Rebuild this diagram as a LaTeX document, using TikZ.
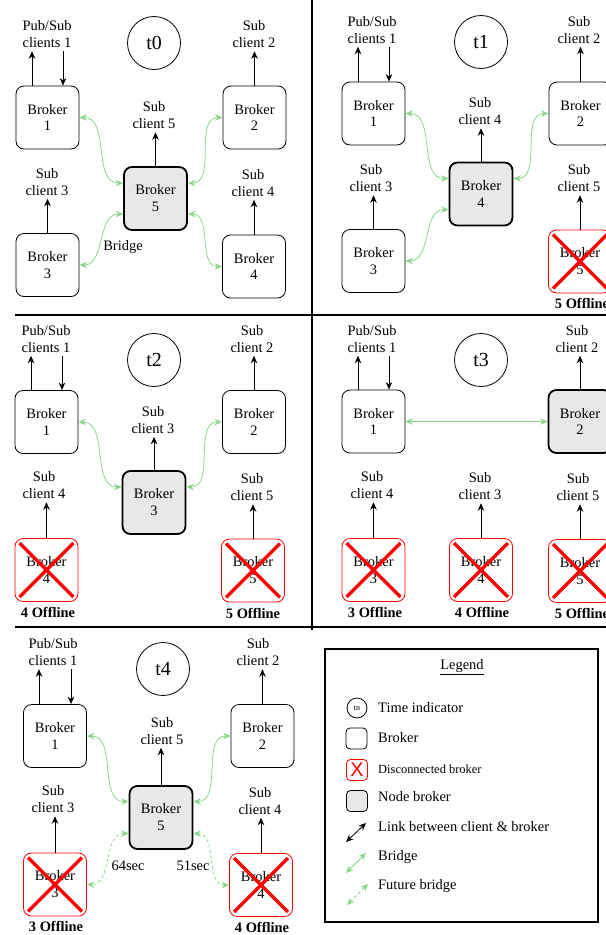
\documentclass[tikz,border=0pt]{standalone}
\usepackage{fontspec}
\setmainfont{Liberation Serif}
\setsansfont{Liberation Sans}
\usetikzlibrary{arrows.meta}
\definecolor{bridgegreen}{RGB}{140,214,140}
\definecolor{nodegray}{RGB}{232,232,232}
\newcommand{\offline}[1]{\draw [xmark] ([shift={(5bp,-5bp)}]#1.north west) -- ([shift={(-5bp,5bp)}]#1.south east)
  ([shift={(5bp,5bp)}]#1.south west) -- ([shift={(-5bp,-5bp)}]#1.north east);}

\begin{document}
\begin{tikzpicture}[x=10bp,y=10bp,>={Stealth[length=7.5bp,width=6.5bp]}]
            \tikzstyle{every node}+=[inner sep=0pt, font=\fontsize{14.5}{17}\selectfont]
            \tikzstyle{broker}=[draw, rounded corners=8bp, minimum size=63bp, align=center, line width=0.8bp]
            \tikzstyle{nodebroker}=[broker, fill=nodegray, line width=1.8bp]
            \tikzstyle{offbroker}=[broker, draw=red]
            \tikzstyle{client}=[align=center, inner sep=3bp]
            \tikzstyle{timer}=[draw, circle, minimum size=53bp, line width=0.8bp, font=\fontsize{20}{24}\selectfont]
            \tikzstyle{offtext}=[font=\fontsize{14.5}{17}\selectfont\bfseries]
            \tikzstyle{link}=[->, line width=0.8bp]
            \tikzstyle{bridge}=[<->, bridgegreen, line width=0.8bp]
            \tikzstyle{futurebridge}=[bridge, dash pattern=on 3bp off 2.5bp]
            \tikzstyle{xmark}=[red, line width=3.5bp]
            \tikzstyle{grid}=[line width=2bp]
            \useasboundingbox (0,0) rectangle (60.6,-93.5);
            \draw [grid] (1.5,-31.5) -- (60.6,-31.5);
            \draw [grid] (1.5,-62.7) -- (60.6,-62.7);
            \draw [grid] (31.15,0) -- (31.15,-63);
            % t0
            \node [timer] (t0) at (15.4,-4.3) {t0};
            \node [client] (t0c1) at (4.7,-3.45) {Pub/Sub\\clients 1};
            \node [broker] (t0b1) at (4.75,-11.75) {Broker\\1};
            \node [client] (t0c2) at (25.4,-3.45) {Sub\\client 2};
            \node [broker] (t0b2) at (25.45,-11.75) {Broker\\2};
            \node [client] (t0c5) at (15.4,-11.55) {Sub\\client 5};
            \node [nodebroker] (t0b5) at (15.55,-19.85) {Broker\\5};
            \node [client] (t0c3) at (4.7,-18.2) {Sub\\client 3};
            \node [broker] (t0b3) at (4.75,-26.5) {Broker\\3};
            \node [client] (t0c4) at (25.3,-18.3) {Sub\\client 4};
            \node [broker] (t0b4) at (25.4,-26.65) {Broker\\4};
            \node (t0lb) at (12.3,-24.7) {Bridge};
            \draw [link] ([xshift=-15.5bp]t0b1.north) -- ([xshift=-15.5bp]t0b1.north |- t0c1.south);
            \draw [link] ([xshift=15.5bp]t0b1.north |- t0c1.south) -- ([xshift=15.5bp]t0b1.north);
            \draw [link] (t0b2.north) -- (t0b2.north |- t0c2.south);
            \draw [link] (t0b5.north) -- (t0b5.north |- t0c5.south);
            \draw [link] (t0b3.north) -- (t0b3.north |- t0c3.south);
            \draw [link] (t0b4.north) -- (t0b4.north |- t0c4.south);
            \draw [bridge] (t0b1.east) to [out=0,in=180] ([yshift=15.5bp]t0b5.west);
            \draw [bridge] (t0b2.west) to [out=180,in=0] ([yshift=15.5bp]t0b5.east);
            \draw [bridge] ([yshift=-15.5bp]t0b5.west) to [out=180,in=0] (t0b3.east);
            \draw [bridge] ([yshift=-15.5bp]t0b5.east) to [out=0,in=180] (t0b4.west);
            % t1
            \node [timer] (t1) at (48.1,-4.2) {t1};
            \node [client] (t1c1) at (37.2,-3.0) {Pub/Sub\\clients 1};
            \node [broker] (t1b1) at (37.35,-11.35) {Broker\\1};
            \node [client] (t1c2) at (57.9,-3.0) {Sub\\client 2};
            \node [broker] (t1b2) at (58.05,-11.35) {Broker\\2};
            \node [client] (t1c4) at (48.0,-11.15) {Sub\\client 4};
            \node [nodebroker] (t1b4) at (48.1,-19.4) {Broker\\4};
            \node [client] (t1c3) at (37.1,-17.85) {Sub\\client 3};
            \node [broker] (t1b3) at (37.35,-26.1) {Broker\\3};
            \node [client] (t1c5) at (57.9,-17.85) {Sub\\client 5};
            \node [offbroker] (t1b5) at (58.0,-26.15) {Broker\\5};
            \node [offtext] (t1o5) at (58.2,-30.3) {5 Offline};
            \offline{t1b5}
            \draw [link] ([xshift=-15.5bp]t1b1.north) -- ([xshift=-15.5bp]t1b1.north |- t1c1.south);
            \draw [link] ([xshift=15.5bp]t1b1.north |- t1c1.south) -- ([xshift=15.5bp]t1b1.north);
            \draw [link] (t1b2.north) -- (t1b2.north |- t1c2.south);
            \draw [link] (t1b4.north) -- (t1b4.north |- t1c4.south);
            \draw [link] (t1b3.north) -- (t1b3.north |- t1c3.south);
            \draw [link] (t1b5.north) -- (t1b5.north |- t1c5.south);
            \draw [bridge] (t1b1.east) to [out=0,in=180] ([yshift=15.5bp]t1b4.west);
            \draw [bridge] (t1b2.west) to [out=180,in=0] ([yshift=15.5bp]t1b4.east);
            \draw [bridge] ([yshift=-15.5bp]t1b4.west) to [out=180,in=0] (t1b3.east);
            % t2
            \node [timer] (t2) at (15.4,-36.0) {t2};
            \node [client] (t2c1) at (4.6,-33.9) {Pub/Sub\\clients 1};
            \node [broker] (t2b1) at (4.65,-42.2) {Broker\\1};
            \node [client] (t2c2) at (25.2,-33.9) {Sub\\client 2};
            \node [broker] (t2b2) at (25.4,-42.2) {Broker\\2};
            \node [client] (t2c3) at (15.3,-42.0) {Sub\\client 3};
            \node [nodebroker] (t2b3) at (15.4,-50.25) {Broker\\3};
            \node [client] (t2c4) at (4.4,-48.55) {Sub\\client 4};
            \node [offbroker] (t2b4) at (4.65,-57.0) {Broker\\4};
            \node [offtext] (t2o4) at (4.8,-61.2) {4 Offline};
            \node [client] (t2c5) at (25.2,-48.75) {Sub\\client 5};
            \node [offbroker] (t2b5) at (25.3,-57.05) {Broker\\5};
            \node [offtext] (t2o5) at (25.3,-61.3) {5 Offline};
            \offline{t2b4}
            \offline{t2b5}
            \draw [link] ([xshift=-15.5bp]t2b1.north) -- ([xshift=-15.5bp]t2b1.north |- t2c1.south);
            \draw [link] ([xshift=15.5bp]t2b1.north |- t2c1.south) -- ([xshift=15.5bp]t2b1.north);
            \draw [link] (t2b2.north) -- (t2b2.north |- t2c2.south);
            \draw [link] (t2b3.north) -- (t2b3.north |- t2c3.south);
            \draw [link] (t2b4.north) -- (t2b4.north |- t2c4.south);
            \draw [link] (t2b5.north) -- (t2b5.north |- t2c5.south);
            \draw [bridge] (t2b1.east) to [out=0,in=180] ([yshift=15.5bp]t2b3.west);
            \draw [bridge] (t2b2.west) to [out=180,in=0] ([yshift=15.5bp]t2b3.east);
            % t3
            \node [timer] (t3) at (48.1,-36.0) {t3};
            \node [client] (t3c1) at (37.2,-33.9) {Pub/Sub\\clients 1};
            \node [broker] (t3b1) at (37.35,-42.15) {Broker\\1};
            \node [client] (t3c2) at (57.7,-33.9) {Sub\\client 2};
            \node [nodebroker] (t3b2) at (58.0,-42.15) {Broker\\2};
            \node [client] (t3c4) at (37.2,-48.55) {Sub\\client 4};
            \node [offbroker] (t3b3) at (37.35,-57.0) {Broker\\3};
            \node [offtext] (t3o3) at (37.5,-61.2) {3 Offline};
            \node [client] (t3c3) at (48.0,-48.65) {Sub\\client 3};
            \node [offbroker] (t3b4) at (48.1,-57.0) {Broker\\4};
            \node [offtext] (t3o4) at (48.2,-61.2) {4 Offline};
            \node [client] (t3c5) at (57.8,-48.75) {Sub\\client 5};
            \node [offbroker] (t3b5) at (58.0,-57.1) {Broker\\5};
            \node [offtext] (t3o5) at (58.2,-61.3) {5 Offline};
            \offline{t3b3}
            \offline{t3b4}
            \offline{t3b5}
            \draw [link] ([xshift=-15.5bp]t3b1.north) -- ([xshift=-15.5bp]t3b1.north |- t3c1.south);
            \draw [link] ([xshift=15.5bp]t3b1.north |- t3c1.south) -- ([xshift=15.5bp]t3b1.north);
            \draw [link] (t3b2.north) -- (t3b2.north |- t3c2.south);
            \draw [link] (t3b3.north) -- (t3b3.north |- t3c4.south);
            \draw [link] (t3b4.north) -- (t3b4.north |- t3c3.south);
            \draw [link] (t3b5.north) -- (t3b5.north |- t3c5.south);
            \draw [bridge] (t3b1.east) -- (t3b2.west);
            % t4
            \node [timer] (t4) at (16.3,-66.9) {t4};
            \node [client] (t4c1) at (5.3,-65.25) {Pub/Sub\\clients 1};
            \node [broker] (t4b1) at (5.5,-73.6) {Broker\\1};
            \node [client] (t4c2) at (25.8,-65.25) {Sub\\client 2};
            \node [broker] (t4b2) at (26.25,-73.6) {Broker\\2};
            \node [client] (t4c5) at (16.2,-73.1) {Sub\\client 5};
            \node [nodebroker] (t4b5) at (16.1,-81.75) {Broker\\5};
            \node [client] (t4c3) at (5.3,-79.95) {Sub\\client 3};
            \node [offbroker] (t4b3) at (5.5,-88.45) {Broker\\3};
            \node [offtext] (t4o3) at (5.6,-92.6) {3 Offline};
            \node [client] (t4c4) at (26.0,-80.1) {Sub\\client 4};
            \node [offbroker] (t4b4) at (26.1,-88.5) {Broker\\4};
            \node [offtext] (t4o4) at (26.2,-92.7) {4 Offline};
            \node (t4s3) at (12.8,-86.6) {64sec};
            \node (t4s4) at (19.3,-86.6) {51sec};
            \offline{t4b3}
            \offline{t4b4}
            \draw [link] ([xshift=-16bp]t4b1.north) -- ([xshift=-16bp]t4b1.north |- t4c1.south);
            \draw [link] ([xshift=16bp]t4b1.north |- t4c1.south) -- ([xshift=16bp]t4b1.north);
            \draw [link] (t4b2.north) -- (t4b2.north |- t4c2.south);
            \draw [link] (t4b5.north) -- (t4b5.north |- t4c5.south);
            \draw [link] (t4b3.north) -- (t4b3.north |- t4c3.south);
            \draw [link] (t4b4.north) -- (t4b4.north |- t4c4.south);
            \draw [bridge] (t4b1.east) to [out=0,in=180] ([yshift=16bp]t4b5.west);
            \draw [bridge] (t4b2.west) to [out=180,in=0] ([yshift=16bp]t4b5.east);
            \draw [futurebridge] ([yshift=-16bp]t4b5.west) to [out=180,in=0] (t4b3.east);
            \draw [futurebridge] ([yshift=-16bp]t4b5.east) to [out=0,in=180] (t4b4.west);
            % legend
            \node [draw, line width=2bp, minimum size=273bp] (legend) at (46.15,-78.55) {};
            \node (legtitle) at (46.2,-66.7) {\underline{Legend}};
            \node [draw, circle, minimum size=20bp, line width=0.8bp, font=\fontsize{8}{9}\selectfont] (legt) at (35.7,-70.8) {tn};
            \node [anchor=west] (legtt) at (37.8,-70.8) {Time indicator};
            \node [draw, rounded corners=4bp, minimum size=21bp, line width=0.8bp] (legb) at (35.65,-73.85) {};
            \node [anchor=west] (legbt) at (37.8,-73.8) {Broker};
            \node [draw=red, rounded corners=4bp, minimum size=21bp, line width=0.8bp, text=red, font=\sffamily\fontsize{20}{20}\selectfont] (legx) at (35.7,-77.0) {X};
            \node [anchor=west, font=\fontsize{12.5}{15}\selectfont] (legxt) at (37.8,-76.9) {Disconnected broker};
            \node [draw, rounded corners=4bp, minimum size=21bp, line width=0.8bp, fill=nodegray] (legn) at (35.7,-80.1) {};
            \node [anchor=west] (legnt) at (37.8,-79.7) {Node broker};
            \coordinate (lk1) at (34.6,-84.2);
            \coordinate (lk2) at (36.6,-82.3);
            \node [anchor=west] (legkt) at (37.8,-82.7) {Link between client \& broker};
            \coordinate (lb1) at (34.6,-87.3);
            \coordinate (lb2) at (36.6,-85.3);
            \node [anchor=west] (legbr) at (37.8,-85.7) {Bridge};
            \coordinate (lf1) at (34.7,-90.5);
            \coordinate (lf2) at (36.8,-88.4);
            \node [anchor=west] (legfb) at (37.8,-88.6) {Future bridge};
            \draw [link, <->] (lk1) -- (lk2);
            \draw [bridge] (lb1) -- (lb2);
            \draw [futurebridge] (lf1) -- (lf2);
\end{tikzpicture}
\end{document}
